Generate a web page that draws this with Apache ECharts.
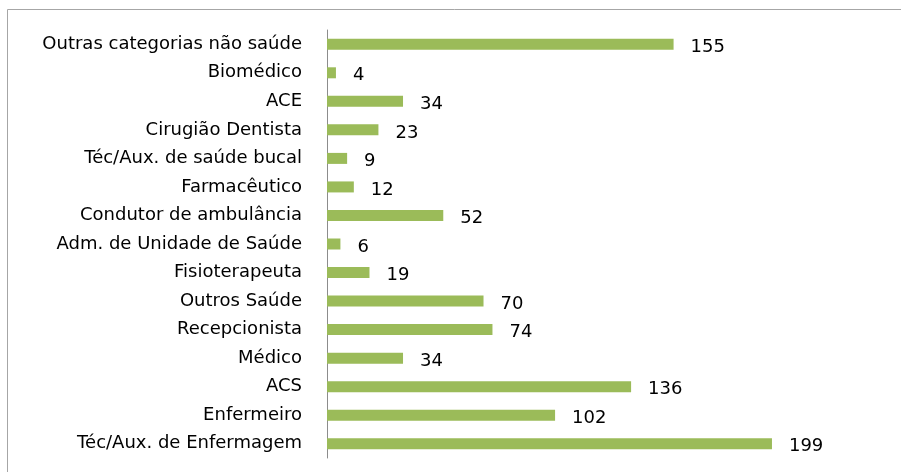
<!DOCTYPE html>
<html>
<head>
<meta charset="utf-8">
<script src="https://cdn.jsdelivr.net/npm/echarts@6/dist/echarts.min.js"></script>
<style>
  html, body { margin: 0; padding: 0; background: #fff; }
  #main { width: 901px; height: 472px; }
</style>
</head>
<body>
<div id="main"></div>
<script>
// categorias de baixo para cima (como o eixo de categorias do echarts)
let categorias = [
  'Téc/Aux. de Enfermagem', 'Enfermeiro', 'ACS', 'Médico', 'Recepcionista',
  'Outros Saúde', 'Fisioterapeuta', 'Adm. de Unidade de Saúde',
  'Condutor de ambulância', 'Farmacêutico', 'Téc/Aux. de saúde bucal',
  'Cirugião Dentista', 'ACE', 'Biomédico', 'Outras categorias não saúde'
]
let valores = [199, 102, 136, 34, 74, 70, 19, 6, 52, 12, 9, 23, 34, 4, 155]

let myChart = echarts.init(document.getElementById('main'))
let fonte = '"DejaVu Sans", sans-serif'
let option = {
  animation: false,
  // moldura cinza do gráfico
  graphic: [{
    type: 'rect',
    shape: { x: 7.5, y: 9.5, width: 1000, height: 1000 },
    style: { fill: 'none', stroke: '#a6a6a6', lineWidth: 1 }
  }],
  grid: {
    left: 327,
    top: 30,
    width: 559,
    bottom: 14
  },
  xAxis: {
    type: 'value',
    min: 0,
    max: 250,
    show: false
  },
  yAxis: {
    type: 'category',
    data: categorias,
    axisLine: { lineStyle: { color: '#8c8c8c', width: 1 } },
    axisTick: { show: false },
    axisLabel: {
      color: '#000',
      fontFamily: fonte,
      fontSize: 18,
      margin: 25
    }
  },
  series: [{
    type: 'bar',
    data: valores,
    barWidth: 11,
    itemStyle: { color: '#9bbb59' },
    label: {
      show: true,
      position: 'right',
      distance: 17,
      offset: [0, 3],
      color: '#000',
      fontFamily: fonte,
      fontSize: 18
    }
  }]
}
myChart.setOption(option)
</script>
</body>
</html>
